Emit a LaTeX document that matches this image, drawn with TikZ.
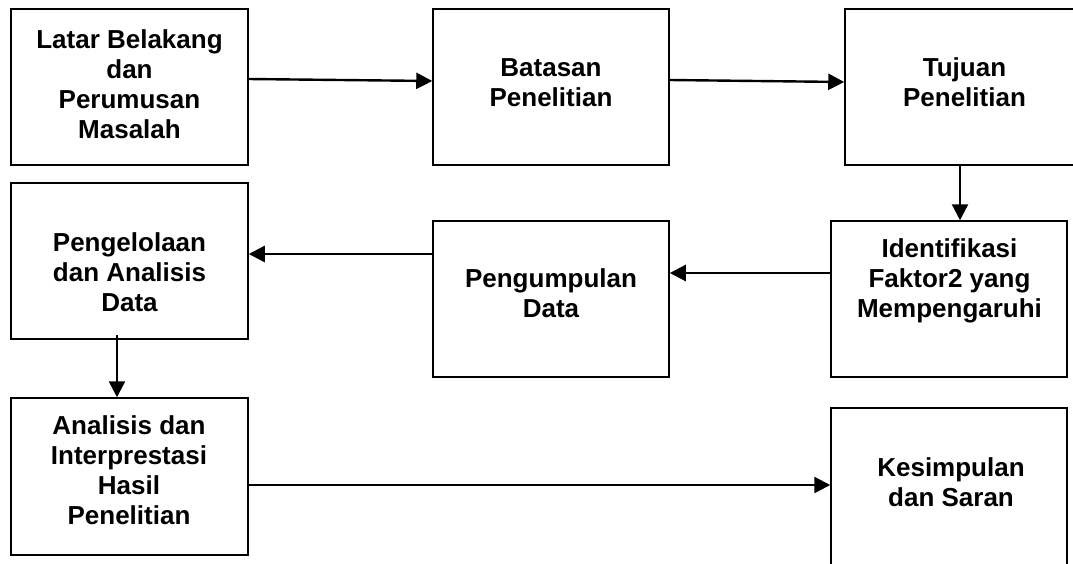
\documentclass[tikz,border=0pt]{standalone}
\usepackage{fontspec}
\setmainfont{Liberation Sans}
\usetikzlibrary{arrows.meta}
\begin{document}
\begin{tikzpicture}[x=1pt,y=-1pt,
  box/.style={draw=black, line width=1.5pt, rectangle, inner sep=0pt, minimum width=236pt, minimum height=156pt},
  lbl/.style={align=center, font=\fontsize{26}{30}\selectfont\bfseries, inner sep=0pt},
  arr/.style={line width=2.4pt, -{Triangle[length=16pt,width=16pt]}}]
\useasboundingbox (0,0) rectangle (1073,563);
\clip (0,0) rectangle (1073,563);
\fill[white] (0,0) rectangle (1073,563);
% boxes
\node[box, minimum width=237pt] (b1) at (129.5,87) {};
\node[box] (b2) at (551,87) {};
\node[box] (b3) at (963,87) {};
\node[box, minimum width=237pt] (b4) at (129.5,261) {};
\node[box] (b5) at (551,299) {};
\node[box] (b6) at (949,299) {};
\node[box, minimum width=237pt, minimum height=157pt] (b7) at (129.5,476.5) {};
\node[box, minimum height=172pt] (b8) at (949,494) {};
% texts
\node[lbl] (t1) at (129.5,84.5) {Latar Belakang\\dan\\Perumusan\\Masalah};
\node[lbl] (t2) at (551,83) {Batasan\\Penelitian};
\node[lbl] (t3) at (964.5,82.5) {Tujuan\\Penelitian};
\node[lbl] (t4) at (129.5,272.5) {Pengelolaan\\dan Analisis\\Data};
\node[lbl] (t5) at (551,293) {Pengumpulan\\Data};
\node[lbl] (t6) at (949.5,280.7) {Identifikasi\\Faktor2 yang\\Mempengaruhi};
\node[lbl] (t7) at (129,470.5) {Analisis dan\\Interprestasi\\Hasil\\Penelitian};
\node[lbl] (t8) at (951,482.5) {Kesimpulan\\dan Saran};
% connectors
\draw[arr] ([yshift=8pt]b1.east) -- ([yshift=6pt]b2.west);
\draw[arr] ([yshift=7pt]b2.east) -- ([yshift=5pt]b3.west);
\draw[arr] ([xshift=-3pt]b3.south) -- ([xshift=-3pt]b3.south |- b6.north);
\draw[arr] ([yshift=26pt]b6.west) -- ([yshift=26pt]b6.west -| b5.east);
\draw[arr] ([yshift=45pt]b5.west) -- ([yshift=45pt]b5.west -| b4.east);
\draw[arr] ([xshift=-12.5pt,yshift=5pt]b4.south) -- ([xshift=-12.5pt]b4.south |- b7.north);
\draw[arr] ([yshift=-8.5pt]b7.east) -- ([yshift=-8.5pt]b7.east -| b8.west);
\end{tikzpicture}
\end{document}
